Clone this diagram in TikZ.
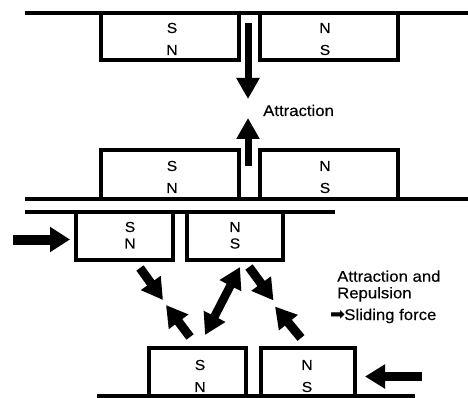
\documentclass[tikz,border=0pt]{standalone}
\usepackage{fontspec}
\setmainfont{Liberation Sans}[FakeStretch=1.08, FakeBold=0.3]
\newfontfamily\symfont{DejaVu Sans}
\usetikzlibrary{arrows.meta}

\tikzset{
  bar/.style={line width=4pt},
  magnet/.style={draw, line width=4pt},
  pole/.style={inner sep=0pt, font=\fontsize{14.5}{16}\selectfont},
  caption/.style={inner sep=0pt, anchor=base west, font=\fontsize{15.5}{18}\selectfont},
  force/.style={line width=7pt, -{Triangle[length=21pt,width=22pt]}},
  diag/.style={line width=9pt, -{Triangle[length=21pt,width=23pt]}},
  diagboth/.style={line width=8.5pt, {Triangle[length=21pt,width=23pt]}-{Triangle[length=21pt,width=23pt]}},
  push/.style={line width=10pt, -{Triangle[length=20pt,width=24pt]}},
}

\begin{document}
\begin{tikzpicture}[x=1pt, y=-1pt]
\useasboundingbox (0,0) rectangle (468,398);

% --- base plates ---
\draw[bar] (25,13) -- (468,13);
\draw[bar] (25,198.5) -- (468,198.5);
\draw[bar] (25,211.5) -- (335,211.5);
\draw[bar] (97,395.5) -- (415,395.5);

% --- upper pair (hanging from top plate) ---
\draw[magnet] (100.5,13) rectangle (239,60);
\draw[magnet] (259.5,13) rectangle (398,60);
\node[pole] (p1a) at (172,28) {S};
\node[pole] (p1b) at (172,50) {N};
\node[pole] (p1c) at (325,28) {N};
\node[pole] (p1d) at (325,50) {S};

% --- lower pair (standing on second plate) ---
\draw[magnet] (100.5,150) rectangle (239,198.5);
\draw[magnet] (259.5,150) rectangle (398,198.5);
\node[pole] (p2a) at (172,166) {S};
\node[pole] (p2b) at (172,188) {N};
\node[pole] (p2c) at (325,166) {N};
\node[pole] (p2d) at (325,188) {S};

% attraction arrows
\coordinate (d0) at (248,23);
\coordinate (d1) at (248,99);
\coordinate (u0) at (248,166);
\coordinate (u1) at (248,118);
\draw[force] (d0) -- (d1);
\draw[force] (u0) -- (u1);
\node[caption] (attr) at (263,116) {Attraction};

% --- sliding pair, top ---
\draw[magnet] (76,211.5) rectangle (172.5,260);
\draw[magnet] (187,211.5) rectangle (283,260);
\node[pole] (p3a) at (130,227) {S};
\node[pole] (p3b) at (130,243.5) {N};
\node[pole] (p3c) at (235,227) {N};
\node[pole] (p3d) at (235,243.5) {S};

% --- sliding pair, bottom ---
\draw[magnet] (148.5,348) rectangle (245.5,395.5);
\draw[magnet] (261,348) rectangle (355,395.5);
\node[pole] (p4a) at (200,365) {S};
\node[pole] (p4b) at (200,387) {N};
\node[pole] (p4c) at (307,365) {N};
\node[pole] (p4d) at (307,387) {S};

% push arrows
\coordinate (l0) at (13,239.5);
\coordinate (l1) at (70,239.5);
\coordinate (r0) at (422,376.5);
\coordinate (r1) at (365,376.5);
\draw[push] (l0) -- (l1);
\draw[line width=9pt, -{Triangle[length=20pt,width=23pt]}] (r0) -- (r1);

% diagonal force arrows
\coordinate (a1s) at (140,268);
\coordinate (a1e) at (163,300);
\coordinate (a2s) at (190,337);
\coordinate (a2e) at (166,305);
\coordinate (b0) at (205,335);
\coordinate (b1) at (240,267);
\coordinate (a3s) at (249,267);
\coordinate (a3e) at (273.5,300.5);
\coordinate (a4s) at (301,338);
\coordinate (a4e) at (275,306.5);
\draw[diag] (a1s) -- (a1e);
\draw[diag] (a2s) -- (a2e);
\draw[diagboth] (b0) -- (b1);
\draw[diag] (a3s) -- (a3e);
\draw[diag] (a4s) -- (a4e);

\node[caption] (t1) at (337,281.7) {Attraction and};
\node[caption] (t2) at (337,298.3) {Repulsion};
\node[caption] (t3) at (330,320) {\raisebox{-0.5pt}{\symfont\fontsize{18}{18}\selectfont ➡}\kern-1pt Sliding force};
\end{tikzpicture}
\end{document}
